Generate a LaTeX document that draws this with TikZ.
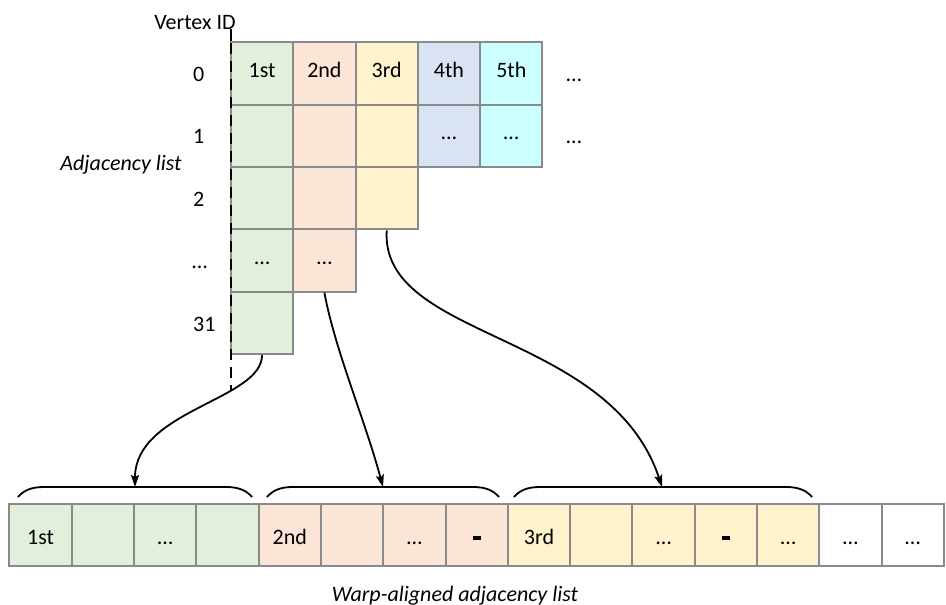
\documentclass[tikz,border=0pt]{standalone}
\usepackage{fontspec}
\setmainfont{Carlito}
\usetikzlibrary{arrows.meta}
\definecolor{cgreen}{HTML}{E2EFDA}
\definecolor{cpeach}{HTML}{FBE5D6}
\definecolor{cyellow}{HTML}{FFF2CC}
\definecolor{clav}{HTML}{DAE3F3}
\definecolor{ccyan}{HTML}{CCFFFF}
\definecolor{cborder}{HTML}{8A8A8A}
\newcommand{\bdash}{\rule[4.3pt]{8pt}{3.5pt}}
\begin{document}
\begin{tikzpicture}[x=1pt,y=-1pt,
  every node/.style={font=\fontsize{22}{26}\selectfont},
  cell/.style={draw=cborder,line width=2pt,minimum width=62.3pt,minimum height=62.3pt,inner sep=0pt,text height=14pt,text depth=6pt},
  bcell/.style={cell,text height=20pt,text depth=2pt},
  conn/.style={line width=1.8pt,-{Stealth[length=12pt,width=8pt,inset=2pt]}},
  bracestyle/.style={line width=1.8pt},
  lbl/.style={anchor=base west,inner sep=0pt}]
\useasboundingbox (0,0) rectangle (946,605);

% vertical dashed axis
\coordinate (axtop) at (231,29);
\coordinate (axbot) at (231,390);
\draw[line width=2pt] (axtop) -- (231,43);

% top grid
\node[cell,fill=cgreen]  (t00) at (262.1,73.6) {1st};
\node[cell,fill=cpeach]  (t01) at (324.4,73.6) {2nd};
\node[cell,fill=cyellow] (t02) at (386.7,73.6) {3rd};
\node[cell,fill=clav]    (t03) at (449.0,73.6) {4th};
\node[cell,fill=ccyan]   (t04) at (511.3,73.6) {5th};

\node[cell,fill=cgreen]  (t10) at (262.1,135.9) {};
\node[cell,fill=cpeach]  (t11) at (324.4,135.9) {};
\node[cell,fill=cyellow] (t12) at (386.7,135.9) {};
\node[cell,fill=clav]    (t13) at (449.0,135.9) {…};
\node[cell,fill=ccyan]   (t14) at (511.3,135.9) {…};

\node[cell,fill=cgreen]  (t20) at (262.1,198.2) {};
\node[cell,fill=cpeach]  (t21) at (324.4,198.2) {};
\node[cell,fill=cyellow] (t22) at (386.7,198.2) {};

\node[cell,fill=cgreen]  (t30) at (262.1,260.5) {…};
\node[cell,fill=cpeach]  (t31) at (324.4,260.5) {…};

\node[cell,fill=cgreen]  (t40) at (262.1,322.8) {};

\draw[line width=2pt,dash pattern=on 11pt off 7pt] (231,43) -- (axbot);

% labels
\node[anchor=base,inner sep=0pt] (vid) at (195,29) {Vertex ID};
\node[anchor=base,inner sep=0pt] (adj) at (121,170) {\itshape Adjacency list};
\node[lbl] (r0) at (193,81) {0};
\node[lbl] (r1) at (193,143.5) {1};
\node[lbl] (r2) at (193,206) {2};
\node[lbl] (r3) at (192,268) {…};
\node[lbl] (r4) at (193,331) {31};
\node[anchor=base,inner sep=0pt] (d0) at (574,81.5) {…};
\node[anchor=base,inner sep=0pt] (d1) at (574,143) {…};

% bottom row
\node[bcell,fill=cgreen]  (b0)  at (40.6,535) {1st};
\node[bcell,fill=cgreen]  (b1)  at (102.9,535) {};
\node[bcell,fill=cgreen]  (b2)  at (165.2,535) {…};
\node[bcell,fill=cgreen]  (b3)  at (227.5,535) {};
\node[bcell,fill=cpeach]  (b4)  at (289.8,535) {2nd};
\node[bcell,fill=cpeach]  (b5)  at (352.1,535) {};
\node[bcell,fill=cpeach]  (b6)  at (414.4,535) {…};
\node[bcell,fill=cpeach]  (b7)  at (476.7,535) {\bdash};
\node[bcell,fill=cyellow] (b8)  at (539.0,535) {3rd};
\node[bcell,fill=cyellow] (b9)  at (601.3,535) {};
\node[bcell,fill=cyellow] (b10) at (663.6,535) {…};
\node[bcell,fill=cyellow] (b11) at (725.9,535) {\bdash};
\node[bcell,fill=cyellow] (b12) at (788.2,535) {…};
\node[bcell,fill=white]   (b13) at (850.5,535) {…};
\node[bcell,fill=white]   (b14) at (912.8,535) {…};

\node[anchor=base,inner sep=0pt] (cap) at (455,601) {\itshape Warp-aligned adjacency list};

% braces
\coordinate (tip1) at (135,487);
\coordinate (tip2) at (383,487);
\coordinate (tip3) at (662,487);
\draw[bracestyle] (18,497) .. controls (24,490) and (32,487) .. (44,487) -- (226,487) .. controls (238,487) and (246,490) .. (252,497);
\draw[bracestyle] (267,497) .. controls (273,490) and (281,487) .. (293,487) -- (473,487) .. controls (485,487) and (493,490) .. (499,497);
\draw[bracestyle] (514,497) .. controls (520,490) and (528,487) .. (540,487) -- (786,487) .. controls (798,487) and (806,490) .. (812,497);

% connectors
\draw[conn] (t40.south) .. controls (262,400) and (135,410) .. (tip1);
\draw[conn] (t31.south) .. controls (335,350) and (365,420) .. (tip2);
\draw[conn] (t22.south) .. controls (380,340) and (610,330) .. (tip3);
\end{tikzpicture}
\end{document}
